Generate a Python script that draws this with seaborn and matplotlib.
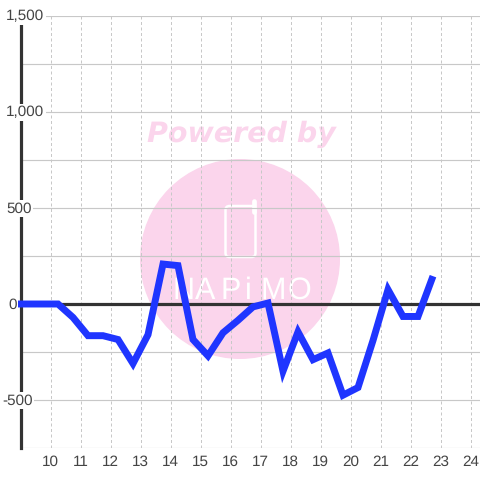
import pandas as pd
import matplotlib.pyplot as plt
from matplotlib.patches import Circle, FancyBboxPatch
import seaborn as sns

sns.set_style('white')
plt.rcParams['font.family'] = ['Liberation Sans', 'DejaVu Sans']
plt.rcParams['text.hinting'] = 'no_hinting'

# half hour readings
hours = [8.9, 9.25, 9.75, 10.25, 10.75, 11.25, 11.75, 12.25, 12.75, 13.25, 13.75, 14.25, 14.75,
         15.25, 15.75, 16.25, 16.75, 17.25, 17.75, 18.25, 18.75, 19.25, 19.75, 20.25, 20.75,
         21.25, 21.75, 22.25, 22.75]
values = [0, 0, 0, 0, -70, -165, -165, -185, -310, -160, 208, 200, -185, -270, -150, -85, -15, 5,
          -350, -145, -290, -255, -475, -435, -190, 75, -65, -65, 145]
xTicks = list(range(10, 25))
yTicks = [-500, 0, 500, 1000, 1500]
yLabels = ['-500', '0', '500', '1,000', '1,500']
yLabelLeft = [2, 8, 6, 6, 6]
minorY = [-750, -250, 250, 750, 1250]
logoLetters = ['N', 'A', 'P', 'i', 'M', 'O']
logoCentres = [184, 205, 231, 248, 273, 299]

df = pd.DataFrame({'hour': hours, 'value': values})

PINK = '#fbd5ec'
GRID = '#c8c8c8'
DARK = '#333333'
TEXT = '#444444'

fig = plt.figure(figsize=(4.8, 4.8), dpi=100, facecolor='white')

# watermark sits in its own pixel-sized axes under the chart
bg = fig.add_axes([0, 0, 1, 1], zorder=0)
bg.set_xlim(0, 480)
bg.set_ylim(480, 0)
bg.axis('off')
bg.add_patch(Circle((240, 259), 100, color=PINK, lw=0))
bg.text(241.5, 134, 'Powered by', color=PINK, fontsize=20.5, fontweight='bold', fontstyle='italic',
        family='DejaVu Sans', ha='center', va='center')
bg.add_patch(FancyBboxPatch((225.5, 206), 30, 51, boxstyle='round,pad=0,rounding_size=4',
                            fc='none', ec='white', lw=1.8))
bg.plot([253.5, 253.5], [201, 212], color='white', lw=3.4, solid_capstyle='round')
for x, letter in zip(logoCentres, logoLetters):
    bg.text(x, 291, letter, color='white', fontsize=22, ha='center', va='center')

ax = fig.add_axes([20.5 / 480, (480 - 448) / 480, (480 - 20.5) / 480, (448 - 16) / 480], zorder=1)
ax.patch.set_alpha(0)
ax.set_xlim(9, 9 + (480 - 20.5) / 30)
ax.set_ylim(-750, 1500)

for y in yTicks + minorY:
    ax.axhline(y, color=GRID, lw=0.85, zorder=1)
for x in xTicks:
    ax.axvline(x, color=GRID, lw=0.72, ls=(0, (3, 2.5)), zorder=1)
ax.axhline(0, color=DARK, lw=2.3, zorder=2)

sns.lineplot(data=df, x='hour', y='value', ax=ax, color='#1f35ff', lw=5, zorder=4,
             solid_joinstyle='miter', solid_capstyle='butt', errorbar=None, sort=False)
ax.lines[-1].set_clip_on(False)

sns.despine(ax=ax, top=True, right=True, bottom=True, left=False)
ax.spines['left'].set_color(DARK)
ax.spines['left'].set_linewidth(2.3)
ax.spines['left'].set_zorder(3)

ax.set_xlabel('')
ax.set_ylabel('')
ax.set_xticks(xTicks)
ax.tick_params(axis='x', length=0, pad=5, labelsize=11, labelcolor=TEXT)

# y labels break the axis line and the gridlines, so give them a white backing
ax.set_yticks([])
for y, text, x in zip(yTicks, yLabels, yLabelLeft):
    py = 304 - y * 96 / 500
    ax.text(x, py + 0.5, text, transform=bg.transData, fontsize=11, color=TEXT, ha='left', va='center',
            zorder=5, clip_on=False, bbox=dict(fc='white', ec='none', pad=1))

fig.savefig('out.png', dpi=100)
